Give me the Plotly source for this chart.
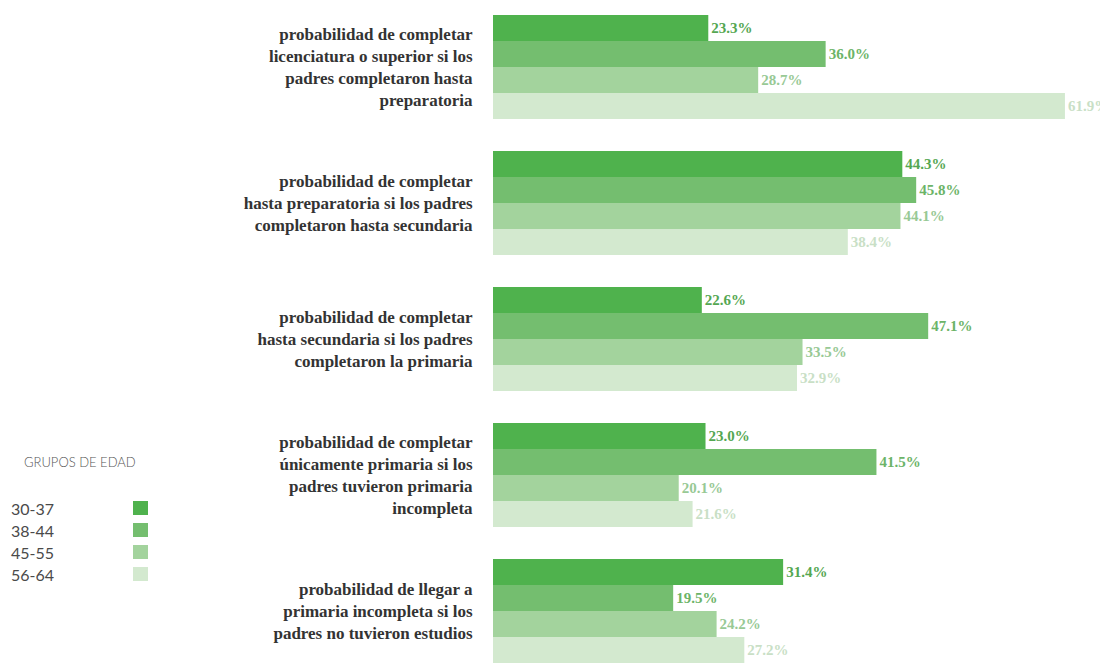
import plotly.graph_objects as go

categories = [
    "probabilidad de completar<br>licenciatura o superior si los<br>padres completaron hasta<br>preparatoria",
    "probabilidad de completar<br>hasta preparatoria si los padres<br>completaron hasta secundaria",
    "probabilidad de completar<br>hasta secundaria si los padres<br>completaron la primaria",
    "probabilidad de completar<br>únicamente primaria si los<br>padres tuvieron primaria<br>incompleta",
    "probabilidad de llegar a<br>primaria incompleta si los<br>padres no tuvieron estudios",
]
series_names = ["30-37", "38-44", "45-55", "56-64"]
values_30_37 = [23.3, 44.3, 22.6, 23.0, 31.4]
values_38_44 = [36.0, 45.8, 47.1, 41.5, 19.5]
values_45_55 = [28.7, 44.1, 33.5, 20.1, 24.2]
values_56_64 = [61.9, 38.4, 32.9, 21.6, 27.2]
series_values = [values_30_37, values_38_44, values_45_55, values_56_64]

bar_colors = ["#4fb24d", "#74be6f", "#a3d39d", "#d3e9cf"]
text_colors = ["#55a752", "#6cb468", "#98c995", "#c9dfc6"]

OFF = 8  # page body margin
W, H = 1108 - OFF, 663 - OFF
L = 493 - OFF

fig = go.Figure()
for name, vals, bc, tc in zip(series_names, series_values, bar_colors, text_colors):
    fig.add_trace(go.Bar(
        y=categories, x=vals, orientation="h", name=name,
        marker=dict(color=bc, line=dict(width=0)),
        text=[f"{v:.1f}%" for v in vals], textposition="outside",
        textfont=dict(family="Liberation Serif", size=15, color=tc, weight="bold"),
        constraintext="none", cliponaxis=False, showlegend=False,
    ))

def px_x(px):
    return (px - OFF - L) / (W - L)

def px_y(py):
    return 1 - (py - OFF) / H

annotations = [dict(
    text="GRUPOS DE EDAD", xref="paper", yref="paper",
    x=px_x(22), y=px_y(462), xanchor="left", yanchor="middle", showarrow=False,
    font=dict(family="Lato", size=13, color="#555555", weight=300),
)]
shapes = []
for i, (name, bc) in enumerate(zip(series_names, bar_colors)):
    yc = 508 + 22 * i
    annotations.append(dict(
        text=name, xref="paper", yref="paper", x=px_x(9), y=px_y(yc),
        xanchor="left", yanchor="middle", showarrow=False,
        font=dict(family="Lato", size=16, color="#4a4a4a"),
    ))
    shapes.append(dict(
        type="rect", xref="paper", yref="paper",
        x0=px_x(133), x1=px_x(148), y0=px_y(yc - 7), y1=px_y(yc + 7),
        fillcolor=bc, line=dict(width=0),
    ))

fig.update_layout(
    width=W, height=H,
    margin=dict(l=L, r=0, t=0, b=0),
    paper_bgcolor="white", plot_bgcolor="white",
    barmode="group", bargap=0.235, bargroupgap=0,
    xaxis=dict(range=[0, 66.56], visible=False, showgrid=False, zeroline=False),
    yaxis=dict(
        range=[4.382, -0.434], showgrid=False, zeroline=False, showline=False,
        ticks="outside", ticklen=16, tickcolor="rgba(0,0,0,0)",
        tickfont=dict(family="Liberation Serif", size=17, color="#333333", weight="bold"),
    ),
    annotations=annotations, shapes=shapes,
)

fig.write_html("out.html")
